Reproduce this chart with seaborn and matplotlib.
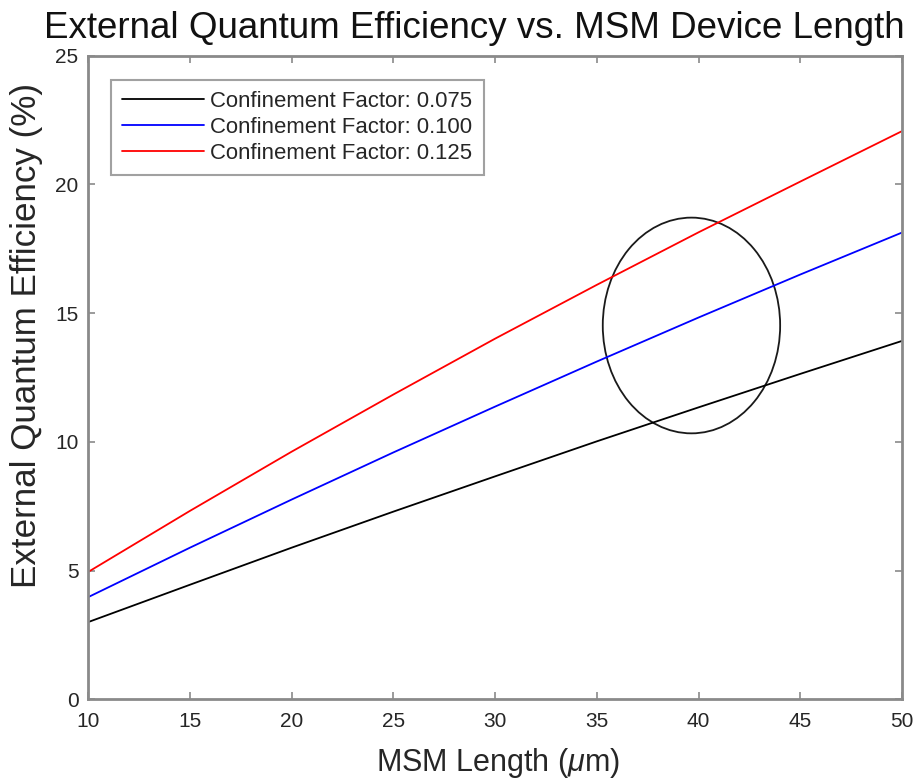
import numpy as np
import pandas as pd
import matplotlib
matplotlib.use("Agg")
import matplotlib.pyplot as plt
from matplotlib.patches import Ellipse
import seaborn as sns

# ---- data ----
length_um = [10, 15, 20, 25, 30, 35, 40, 45, 50]
eqe_075 = [3.00, 4.45, 5.89, 7.29, 8.66, 10.02, 11.34, 12.64, 13.92]
eqe_100 = [3.97, 5.89, 7.76, 9.59, 11.37, 13.12, 14.83, 16.50, 18.13]
eqe_125 = [4.95, 7.32, 9.62, 11.84, 14.01, 16.10, 18.14, 20.11, 22.07]
series_labels = ["Confinement Factor: 0.075",
                 "Confinement Factor: 0.100",
                 "Confinement Factor: 0.125"]
series_colors = ["#000000", "#0000ff", "#ff0000"]
# highlight ellipse (data units): center x, center y, width, height
ellipse_center = (39.65, 14.52)
ellipse_size = (8.72, 8.38)

title = "External Quantum Efficiency vs. MSM Device Length"
xlabel = r"MSM Length ($\mu$m)"
ylabel = "External Quantum Efficiency (%)"
xticks = [10, 15, 20, 25, 30, 35, 40, 45, 50]
yticks = [0, 5, 10, 15, 20, 25]

rows = []
for lab, vals in zip(series_labels, [eqe_075, eqe_100, eqe_125]):
    for x, y in zip(length_um, vals):
        rows.append({"L": x, "EQE": y, "series": lab})
df = pd.DataFrame(rows)

sns.set_style("ticks")
plt.rcParams["font.family"] = ["Liberation Sans", "DejaVu Sans"]
plt.rcParams["mathtext.fontset"] = "custom"
plt.rcParams["mathtext.it"] = "Liberation Sans:italic"
plt.rcParams["mathtext.rm"] = "Liberation Sans"

text_color = "#262626"
axis_color = "#8a8a8a"

fig = plt.figure(figsize=(9.19, 7.78), dpi=100)
ax = fig.add_axes([0.0961, 0.1012, 0.8854, 0.8272])

sns.lineplot(data=df, x="L", y="EQE", hue="series",
             palette=dict(zip(series_labels, series_colors)),
             hue_order=series_labels, linewidth=1.3, ax=ax)

ax.add_patch(Ellipse(ellipse_center, ellipse_size[0], ellipse_size[1],
                     fill=False, edgecolor="#1a1a1a", linewidth=1.3))

ax.set_xlim(10, 50)
ax.set_ylim(0, 25)
ax.set_xticks(xticks)
ax.set_yticks(yticks)
ax.tick_params(direction="in", length=5, width=1.2, color=axis_color,
               labelcolor=text_color, labelsize=15, top=True, right=True)
ax.tick_params(axis="x", pad=9)
ax.tick_params(axis="y", pad=7)
for sp in ax.spines.values():
    sp.set_visible(True)
    sp.set_color(axis_color)
    sp.set_linewidth(2)

ax.set_xlabel(xlabel, fontsize=22, color=text_color)
ax.set_ylabel(ylabel, fontsize=25.2, color=text_color)
ax.xaxis.set_label_coords(0.503, -0.072)
ax.yaxis.set_label_coords(-0.056, 0.566)
ax.set_title(title, fontsize=26.5, color="#111111", pad=13, x=0.474)

leg = ax.legend(loc="upper left", bbox_to_anchor=(0.028, 0.962),
                borderaxespad=0, fancybox=False, fontsize=15.9,
                handlelength=3.7, handletextpad=0.3, labelspacing=0.22,
                borderpad=0.5, title=None)
leg.get_frame().set_edgecolor(axis_color)
leg.get_frame().set_linewidth(1.5)
for t in leg.get_texts():
    t.set_color(text_color)

fig.savefig("out.png", dpi=100)
